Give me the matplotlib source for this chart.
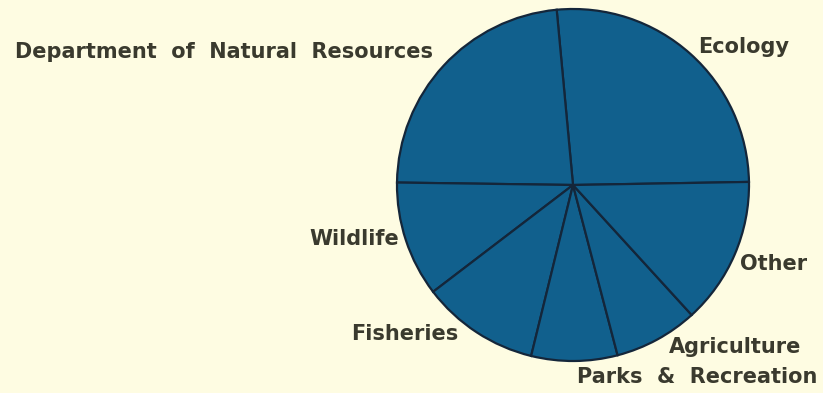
import matplotlib.pyplot as plt

# agency shares (percent), counterclockwise from the right
agencies = ['Ecology', 'Department  of  Natural  Resources', 'Wildlife', 'Fisheries',
            'Parks  &  Recreation', 'Agriculture', 'Other']
shares = [26.2, 23.3, 10.6, 10.8, 7.9, 7.7, 13.5]

bg = '#fefce2'
fill = '#11608d'
edge = '#14263a'
ink = '#3a3a2e'

fig = plt.figure(figsize=(8.23, 3.93), dpi=100, facecolor=bg)
ax = fig.add_axes([0, 0, 1, 1])
ax.set_facecolor(bg)

ax.pie(shares, startangle=1, counterclock=True, center=(573, 208), radius=176,
       colors=[fill] * len(shares),
       wedgeprops=dict(edgecolor=edge, linewidth=1.6))

ax.set_xlim(0, 823)
ax.set_ylim(0, 393)
ax.set_aspect('equal')
ax.axis('off')

# label anchors: left edge and baseline (pixels, y up)
label_pos = [(698, 340), (15, 335), (309, 148), (351, 53),
             (577, 10), (669, 40), (740, 123)]
for name, (x, y) in zip(agencies, label_pos):
    ax.text(x, y, name, ha='left', va='baseline', fontsize=15,
            fontweight='bold', color=ink, family='DejaVu Sans')

fig.savefig('out.png', dpi=100, facecolor=bg)
